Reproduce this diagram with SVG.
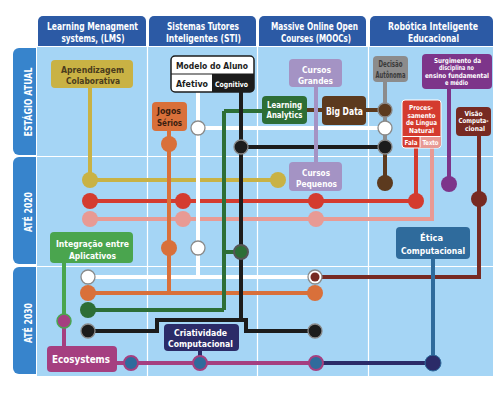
<svg xmlns="http://www.w3.org/2000/svg" width="501" height="400" viewBox="0 0 501 400">
<style>
text{font-family:"DejaVu Sans Condensed","Liberation Sans Narrow","Liberation Sans",sans-serif;font-weight:bold;text-anchor:middle;fill:#fff}
.h{font-size:10.5px}
.b{font-size:9.5px}
.m{font-size:8.5px}
.s{font-size:7.5px}
.xs{font-size:6.8px}
.dk{fill:#4a3b1c}
.gr{fill:#3a3a3a}
.bk{fill:#1c1c1c}
.ln{fill:none;stroke-width:4}
.grid{stroke:#fff;stroke-width:1.2;fill:none}
.hd{fill:#2c5aa5}
.tab{fill:#3784cc}
.cg{stroke:#8a8a8a;stroke-width:1.3}
</style>
<rect width="501" height="400" fill="#fff"/>
<rect x="37" y="47" width="456" height="329" fill="#a5d5f5"/>
<g id="grid">
<path class="grid" d="M147.5,47V376M257.5,47V376M368.5,47V376M37,156.5H493M37,266.5H493"/>
</g>
<g id="headers">
<path class="hd" d="M38,46V21a5,5 0 0 1 5-5H141a5,5 0 0 1 5,5V46Z"/>
<path class="hd" d="M149,46V21a5,5 0 0 1 5-5H251a5,5 0 0 1 5,5V46Z"/>
<path class="hd" d="M259,46V21a5,5 0 0 1 5-5H361a5,5 0 0 1 5,5V46Z"/>
<path class="hd" d="M370,46V21a5,5 0 0 1 5-5H488a5,5 0 0 1 5,5V46Z"/>
<text class="h" x="92.5" y="30" textLength="91" lengthAdjust="spacingAndGlyphs">Learning Menagment</text>
<text class="h" x="93" y="42" textLength="63" lengthAdjust="spacingAndGlyphs">systems, (LMS)</text>
<text class="h" x="203" y="30" textLength="72" lengthAdjust="spacingAndGlyphs">Sistemas Tutores</text>
<text class="h" x="203.5" y="42" textLength="75" lengthAdjust="spacingAndGlyphs">Inteligentes (STI)</text>
<text class="h" x="314.5" y="30" textLength="87" lengthAdjust="spacingAndGlyphs">Massive Online Open</text>
<text class="h" x="316" y="42" textLength="70" lengthAdjust="spacingAndGlyphs">Courses (MOOCs)</text>
<text class="h" x="433" y="30" textLength="90" lengthAdjust="spacingAndGlyphs">Robótica Inteligente</text>
<text class="h" x="433.5" y="42" textLength="51" lengthAdjust="spacingAndGlyphs">Educacional</text>
</g>
<g id="rows">
<path class="tab" d="M36,48V155H19a6,6 0 0 1-6-6V54a6,6 0 0 1 6-6Z"/>
<path class="tab" d="M36,157V264H19a6,6 0 0 1-6-6V163a6,6 0 0 1 6-6Z"/>
<path class="tab" d="M36,267V374H19a6,6 0 0 1-6-6V273a6,6 0 0 1 6-6Z"/>
<text class="h" transform="translate(31.5,102) rotate(-90)" textLength="69" lengthAdjust="spacingAndGlyphs">ESTÁGIO ATUAL</text>
<text class="h" transform="translate(31.5,212) rotate(-90)" textLength="40" lengthAdjust="spacingAndGlyphs">ATÉ 2020</text>
<text class="h" transform="translate(31.5,323) rotate(-90)" textLength="40" lengthAdjust="spacingAndGlyphs">ATÉ 2030</text>
</g>
<g id="connectors">
<path class="ln" stroke="#c9b244" d="M90,88V180H278"/>
<path class="ln" stroke="#d43b2f" d="M90,201H416V148"/>
<path class="ln" stroke="#e89a94" d="M90,219H432V148"/>
<path class="ln" stroke="#d9703a" d="M88,293H315"/>
<path class="ln" stroke="#2d6e36" d="M88,310H224M262,111H224"/>
<path class="ln" stroke="#1c1c1c" d="M88,331H157V320H246V331H315M241,147H385"/>
<path class="ln" stroke="#772a22" d="M315,277H479V136"/>
<path class="ln" stroke="#a53f80" d="M117,363H316M64,321V346"/>
<path class="ln" stroke="#2b2b68" d="M316,363H433M200,351V363"/>
<path class="ln" stroke="#fff" stroke-width="4.5" d="M198,92V277M198,128H385M88,277H315"/>
<path class="ln" stroke="#d9703a" d="M169,131V293"/>
<path class="ln" stroke="#2d6e36" d="M224,111V310M224,252H241"/>
<path class="ln" stroke="#1c1c1c" d="M241,92V320"/>
<path class="ln" stroke="#5c3a1e" d="M307,110H322M366,110H385M385,147V183"/>
<path class="ln" stroke="#8c8c8c" d="M385,82V147"/>
<path class="ln" stroke="#a493c4" d="M316,87V162"/>
<path class="ln" stroke="#7d358a" d="M449,89V184"/>
<path class="ln" stroke="#2f6b9c" d="M433,259V363"/>
<path class="ln" stroke="#4aa54e" d="M64,263V321"/>
</g>
<g id="n-aprendizagem">
<rect x="51" y="60" width="82" height="28" rx="4" fill="#c9b244"/>
<text class="b dk" x="92.5" y="73" textLength="63" lengthAdjust="spacingAndGlyphs">Aprendizagem</text>
<text class="b dk" x="93" y="84" textLength="54" lengthAdjust="spacingAndGlyphs">Colaborativa</text>
</g>
<g id="n-modelo">
<rect x="171" y="56" width="83" height="36" rx="4" fill="#fff"/>
<path d="M212,74H254V88a4,4 0 0 1-4,4H212Z" fill="#1c1c1c"/>
<rect x="171" y="56" width="83" height="36" rx="4" fill="none" stroke="#1c1c1c" stroke-width="1.5"/>
<path d="M171,74H254" stroke="#1c1c1c" stroke-width="1.2"/>
<text class="b bk" x="212" y="69" textLength="72" lengthAdjust="spacingAndGlyphs">Modelo do Aluno</text>
<text class="b bk" x="192" y="87" textLength="32" lengthAdjust="spacingAndGlyphs">Afetivo</text>
<text class="s" x="231.5" y="86.5" textLength="33" lengthAdjust="spacingAndGlyphs">Cognitivo</text>
</g>
<g id="n-jogos">
<rect x="152" y="102" width="35" height="29" rx="4" fill="#d9703a"/>
<text class="b" x="169" y="114" textLength="24" lengthAdjust="spacingAndGlyphs" style="fill:#3a1e10">Jogos</text>
<text class="b" x="169.5" y="126" textLength="25" lengthAdjust="spacingAndGlyphs" style="fill:#3a1e10">Sérios</text>
</g>
<g id="n-learning">
<rect x="262" y="96" width="45" height="28" rx="4" fill="#2d6e36"/>
<text class="m" x="284.5" y="108" textLength="35" lengthAdjust="spacingAndGlyphs">Learning</text>
<text class="m" x="284.5" y="118" textLength="36" lengthAdjust="spacingAndGlyphs">Analytics</text>
</g>
<g id="n-bigdata">
<rect x="322" y="96" width="44" height="29" rx="4" fill="#5c3a1e"/>
<text class="h" x="344.5" y="114.5" textLength="37" lengthAdjust="spacingAndGlyphs">Big Data</text>
</g>
<g id="n-cursos-grandes">
<rect x="289" y="59" width="53" height="28" rx="4" fill="#a493c4"/>
<text class="b" x="316.5" y="73" textLength="29" lengthAdjust="spacingAndGlyphs">Cursos</text>
<text class="b" x="315.5" y="84" textLength="35" lengthAdjust="spacingAndGlyphs">Grandes</text>
</g>
<g id="n-cursos-pequenos">
<rect x="289" y="162" width="53" height="29" rx="4" fill="#a493c4"/>
<text class="b" x="316" y="176" textLength="28" lengthAdjust="spacingAndGlyphs">Cursos</text>
<text class="b" x="316.5" y="187" textLength="41" lengthAdjust="spacingAndGlyphs">Pequenos</text>
</g>
<g id="n-decisao">
<rect x="373" y="56" width="35" height="26" rx="4" fill="#8c8c8c"/>
<text class="m gr" x="390.5" y="67" textLength="24" lengthAdjust="spacingAndGlyphs">Decisão</text>
<text class="m gr" x="390.5" y="77.5" textLength="30" lengthAdjust="spacingAndGlyphs">Autônoma</text>
</g>
<g id="n-surgimento">
<rect x="422" y="54" width="70" height="35" rx="4" fill="#7d358a"/>
<text class="xs" x="457.5" y="62.5" textLength="47" lengthAdjust="spacingAndGlyphs">Surgimento da</text>
<text class="xs" x="456.5" y="70" textLength="35" lengthAdjust="spacingAndGlyphs">disciplina no</text>
<text class="xs" x="457" y="77.5" textLength="64" lengthAdjust="spacingAndGlyphs">ensino fundamental</text>
<text class="xs" x="456.5" y="85" textLength="23" lengthAdjust="spacingAndGlyphs">e médio</text>
</g>
<g id="n-processamento">
<rect x="402" y="100" width="39" height="48" rx="3" fill="#d43b2f" stroke="#fff" stroke-width="1"/>
<path d="M420,136.5H440.5V145a2.5,2.5 0 0 1-2.5,2.5H420Z" fill="#e89a94"/>
<path d="M402.5,136.5H440.5M420,136.5V147.5" stroke="#fff" stroke-width="1"/>
<text class="xs" x="421" y="110" textLength="24" lengthAdjust="spacingAndGlyphs">Proces-</text>
<text class="xs" x="421.5" y="117.5" textLength="28" lengthAdjust="spacingAndGlyphs">samento</text>
<text class="xs" x="421.5" y="125" textLength="31" lengthAdjust="spacingAndGlyphs">de Língua</text>
<text class="xs" x="421.5" y="132.5" textLength="25" lengthAdjust="spacingAndGlyphs">Natural</text>
<text class="xs" x="411" y="145" textLength="13" lengthAdjust="spacingAndGlyphs">Fala</text>
<text class="xs" x="430.5" y="145" textLength="16" lengthAdjust="spacingAndGlyphs">Texto</text>
</g>
<g id="n-visao">
<rect x="456" y="107" width="35" height="29" rx="4" fill="#772a22"/>
<text class="xs" x="473.5" y="115.5" textLength="18" lengthAdjust="spacingAndGlyphs">Visão</text>
<text class="xs" x="473.5" y="123" textLength="30" lengthAdjust="spacingAndGlyphs">Computa-</text>
<text class="xs" x="475" y="130.5" textLength="20" lengthAdjust="spacingAndGlyphs">cional</text>
</g>
<g id="n-etica">
<rect x="396" y="227" width="74" height="32" rx="4" fill="#2f6b9c"/>
<text class="b" x="431.5" y="241" textLength="23" lengthAdjust="spacingAndGlyphs">Ética</text>
<text class="b" x="433" y="254" textLength="64" lengthAdjust="spacingAndGlyphs">Computacional</text>
</g>
<g id="n-integracao">
<rect x="50" y="232" width="83" height="31" rx="4" fill="#4aa54e"/>
<text class="b" x="92.5" y="247" textLength="73" lengthAdjust="spacingAndGlyphs">Integração entre</text>
<text class="b" x="92.5" y="258.5" textLength="47" lengthAdjust="spacingAndGlyphs">Aplicativos</text>
</g>
<g id="n-ecosystems">
<rect x="47" y="346" width="70" height="26" rx="4" fill="#a53f80"/>
<text class="h" x="81" y="363" textLength="58" lengthAdjust="spacingAndGlyphs">Ecosystems</text>
</g>
<g id="n-criatividade">
<rect x="164" y="324" width="75" height="27" rx="4" fill="#2b2b68"/>
<text class="b" x="200.5" y="335.5" textLength="53" lengthAdjust="spacingAndGlyphs">Criatividade</text>
<text class="b" x="200.5" y="347" textLength="65" lengthAdjust="spacingAndGlyphs">Computacional</text>
</g>
<g id="stations">
<circle cx="90" cy="180" r="8" fill="#c9b244"/>
<circle cx="278" cy="180" r="8" fill="#c9b244"/>
<circle cx="90" cy="201" r="8" fill="#d43b2f"/>
<circle cx="183" cy="201" r="8" fill="#d43b2f"/>
<circle cx="316" cy="201" r="8" fill="#d43b2f"/>
<circle cx="416" cy="201" r="8" fill="#d43b2f"/>
<circle cx="90" cy="219" r="8" fill="#e89a94"/>
<circle cx="183" cy="219" r="8" fill="#e89a94"/>
<circle cx="316" cy="219" r="8" fill="#e89a94"/>
<circle cx="169" cy="144" r="8" fill="#d9703a"/>
<circle cx="169" cy="248" r="8" fill="#d9703a"/>
<circle cx="88" cy="293" r="8" fill="#d9703a"/>
<circle cx="315" cy="293" r="8" fill="#d9703a"/>
<circle class="cg" cx="198" cy="128" r="7" fill="#fff"/>
<circle class="cg" cx="198" cy="248" r="7" fill="#fff"/>
<circle class="cg" cx="88" cy="277" r="7" fill="#fff"/>
<circle class="cg" cx="385" cy="128" r="7" fill="#fff"/>
<circle class="cg" cx="241" cy="147" r="7" fill="#1c1c1c"/>
<circle class="cg" cx="385" cy="147" r="7" fill="#1c1c1c"/>
<circle class="cg" cx="88" cy="331" r="7" fill="#1c1c1c"/>
<circle class="cg" cx="315" cy="331" r="7" fill="#1c1c1c"/>
<circle cx="241" cy="252" r="7" fill="#2d6e36" stroke="#555" stroke-width="2"/>
<circle cx="88" cy="310" r="8" fill="#2d6e36"/>
<circle class="cg" cx="315" cy="277" r="7" fill="#fff"/>
<circle cx="315" cy="277" r="4.5" fill="#772a22"/>
<circle class="cg" cx="385" cy="110" r="7" fill="#5c3a1e"/>
<circle cx="385" cy="183" r="8" fill="#5c3a1e"/>
<circle cx="449" cy="184" r="8" fill="#7d358a"/>
<circle cx="479" cy="199" r="8" fill="#772a22"/>
<circle cx="64" cy="321" r="7" fill="#a53f80" stroke="#4aa54e" stroke-width="1.5"/>
<circle cx="131" cy="363" r="7" fill="#2f6b9c" stroke="#a53f80" stroke-width="2"/>
<circle cx="200" cy="363" r="7" fill="#2f6b9c" stroke="#a53f80" stroke-width="2"/>
<circle cx="316" cy="363" r="7" fill="#2f6b9c" stroke="#a53f80" stroke-width="2"/>
<circle cx="433" cy="363" r="8" fill="#2b2b68" stroke="#2f6b9c" stroke-width="1"/>
</g>
</svg>
